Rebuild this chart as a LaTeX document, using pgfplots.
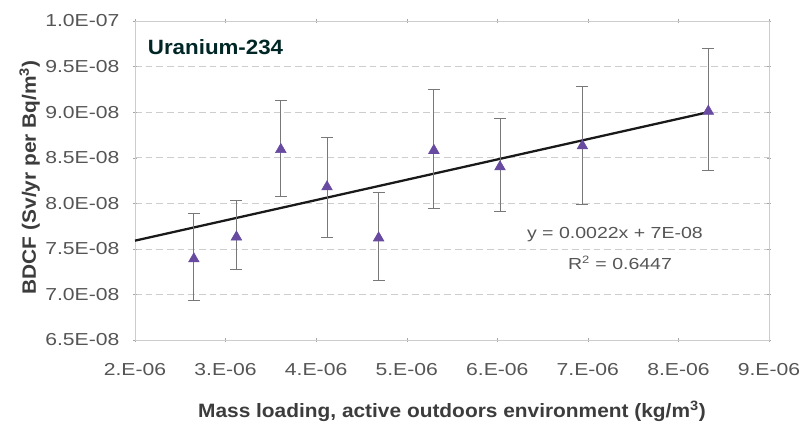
\documentclass[border=0pt]{standalone}
\usepackage{pgfplots}
\pgfplotsset{compat=1.18}
\usepackage{fontspec}
\setmainfont{Liberation Sans}
\newfontfamily\tickfont{Liberation Sans}[FakeStretch=1.22]
\newfontfamily\labfont{Liberation Sans}[FakeStretch=1.08]
\definecolor{tri}{RGB}{104,74,160}
\definecolor{ebar}{RGB}{120,120,120}
\definecolor{gridc}{RGB}{205,205,205}
\definecolor{tickc}{RGB}{85,85,85}
\definecolor{labc}{RGB}{60,60,60}

\pgfplotstableread{
x        y        ep       em
2.65e-6  7.39e-8  0.50e-8  0.46e-8
3.12e-6  7.63e-8  0.40e-8  0.36e-8
3.61e-6  8.59e-8  0.54e-8  0.52e-8
4.12e-6  8.18e-8  0.54e-8  0.56e-8
4.69e-6  7.62e-8  0.50e-8  0.47e-8
5.30e-6  8.58e-8  0.67e-8  0.64e-8
6.03e-6  8.40e-8  0.53e-8  0.49e-8
6.94e-6  8.63e-8  0.65e-8  0.64e-8
8.33e-6  9.01e-8  0.69e-8  0.65e-8
}\bdcf

\begin{document}
\begin{tikzpicture}
\useasboundingbox (-101.25pt,-67.5pt) rectangle (504pt,255pt);
\begin{axis}[
  scale only axis,
  width=475.5pt, height=239.25pt,
  xmin=2e-6, xmax=9e-6, ymin=6.5e-8, ymax=1.0e-7,
  scaled ticks=false,
  xtick={2e-6,3e-6,4e-6,5e-6,6e-6,7e-6,8e-6,9e-6},
  xticklabels={2.E-06,3.E-06,4.E-06,5.E-06,6.E-06,7.E-06,8.E-06,9.E-06},
  ytick={6.5e-8,7.0e-8,7.5e-8,8.0e-8,8.5e-8,9.0e-8,9.5e-8,1.0e-7},
  yticklabels={6.5E-08,7.0E-08,7.5E-08,8.0E-08,8.5E-08,9.0E-08,9.5E-08,1.0E-07},
  axis line style={draw=gridc},
  x axis line style={draw=black!35},
  tick style={draw=black!35},
  tick align=center, major tick length=3pt,
  ymajorgrids,
  major grid style={gridc, dashed, dash pattern=on 5pt off 3pt},
  xticklabel style={font=\tickfont\fontsize{13}{15}\selectfont, text=tickc, inner sep=0pt, anchor=north, yshift=-16pt},
  yticklabel style={font=\tickfont\fontsize{13}{15}\selectfont, text=tickc, inner sep=0pt, anchor=east, xshift=-10pt},
  xlabel={Mass loading, active outdoors environment (kg/m\textsuperscript{3})},
  ylabel={BDCF (Sv/yr per Bq/m\textsuperscript{3})},
  label style={font=\labfont\bfseries\fontsize{14.5}{17}\selectfont, text=labc},
  xlabel style={at={(axis description cs:0.5,-0.225)}, anchor=center},
  ylabel style={at={(axis description cs:-0.166,0.51)}, anchor=center},
  clip=false,
]
\addplot[black!90, line width=1.7pt] coordinates {(2e-6,7.59e-8) (8.33e-6,9.0e-8)};
\addplot[only marks, mark=triangle*, mark size=4.6pt, color=tri,
  error bars/.cd, y dir=both, y explicit,
  error bar style={ebar, line width=0.7pt},
  error mark options={ebar, rotate=90, mark size=4.5pt, line width=0.7pt}]
  table[x=x, y=y, y error plus=ep, y error minus=em] {\bdcf};
\node[anchor=west, font=\labfont\bfseries\fontsize{15.5}{18}\selectfont, text=black!70!teal] at (rel axis cs:0.013,0.918) {Uranium-234};
\node[font=\tickfont\fontsize{12}{14}\selectfont, text=tickc] at (rel axis cs:0.757,0.33) {y = 0.0022x + 7E-08};
\node[font=\tickfont\fontsize{12}{14}\selectfont, text=tickc] at (rel axis cs:0.765,0.241) {R\textsuperscript{2} = 0.6447};
\end{axis}
\end{tikzpicture}
\end{document}
